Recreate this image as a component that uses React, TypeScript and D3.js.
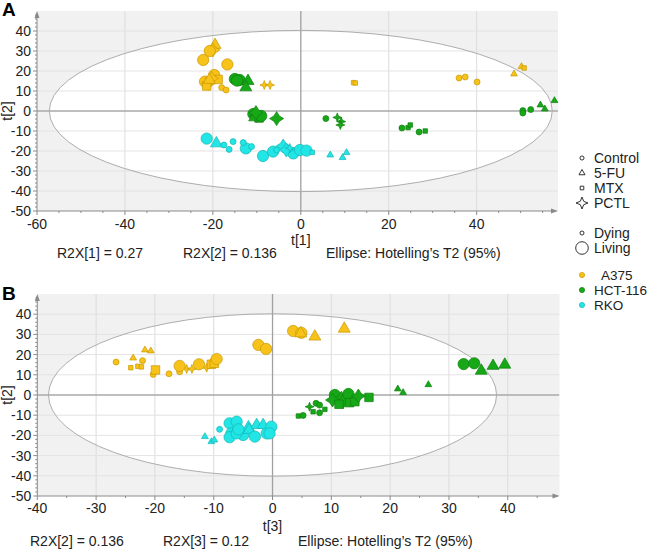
import React from "react";
import * as d3 from "d3";

// ---------- data: [x, y, treatment, state] ----------
type Pt = [number, number, string, string];

const lines = ["A375", "HCT-116", "RKO"];
const treatments = ["Control", "5-FU", "MTX", "PCTL"];
const states = ["Dying", "Living"];

// Panel A: t[1] vs t[2]
const a375A: Pt[] = [
  [-19.5, 33, "5-FU", "Living"], [-20, 30.5, "PCTL", "Living"], [-20.7, 30, "Control", "Living"],
  [-22.2, 25.5, "Control", "Living"], [-16.7, 23.3, "Control", "Living"], [-19.7, 18, "Control", "Living"],
  [-21.8, 14.7, "Control", "Living"], [-21, 13.8, "PCTL", "Living"], [-18.8, 15.8, "MTX", "Living"],
  [-21.4, 12.5, "MTX", "Living"], [-20.3, 16.3, "PCTL", "Living"], [-20.8, 15.5, "5-FU", "Living"],
  [-18, 11.7, "Control", "Dying"], [-17, 10.5, "Control", "Dying"], [-8.3, 13, "PCTL", "Dying"],
  [-7, 13, "PCTL", "Dying"], [12, 14.2, "MTX", "Dying"], [12.4, 14, "MTX", "Dying"],
  [36, 16.5, "Control", "Dying"], [37.4, 17, "Control", "Dying"], [40.1, 14.5, "Control", "Dying"],
  [50.2, 22.2, "5-FU", "Dying"], [50.8, 21.5, "MTX", "Dying"], [48.5, 18.5, "5-FU", "Dying"],
];
const hctA: Pt[] = [
  [-15, 16, "Control", "Living"], [-13.9, 15.5, "Control", "Living"], [-14.5, 15.2, "Control", "Living"],
  [-12, 15, "5-FU", "Living"], [-12.5, 11.8, "5-FU", "Living"],
  [-10.8, -1.5, "Control", "Living"], [-10, -2.2, "PCTL", "Living"], [-9.5, -3.5, "MTX", "Living"],
  [-10.5, -3.2, "5-FU", "Living"], [-9, -2.5, "Control", "Living"], [-10.2, -0.8, "PCTL", "Living"],
  [-5.5, -3.8, "PCTL", "Living"],
  [5.7, -3.8, "Control", "Dying"], [8.3, -3.2, "PCTL", "Dying"], [9.2, -5.3, "PCTL", "Dying"], [9, -7, "PCTL", "Dying"],
  [23, -8.5, "Control", "Dying"], [24.4, -8.3, "MTX", "Dying"], [24.9, -7, "MTX", "Dying"],
  [26.9, -10.5, "Control", "Dying"], [28.3, -10, "MTX", "Dying"],
  [50.5, 0.2, "Control", "Dying"], [50.5, -1, "Control", "Dying"], [52.3, 0.7, "Control", "Dying"],
  [54.5, 3, "5-FU", "Dying"], [55.5, 1, "5-FU", "Dying"], [57.7, 5.2, "5-FU", "Dying"],
];
const rkoA: Pt[] = [
  [-21.4, -13.8, "Control", "Living"], [-19.2, -16.2, "5-FU", "Living"], [-12.5, -18.7, "Control", "Living"],
  [-8.6, -22.5, "Control", "Living"], [-6.3, -20.3, "Control", "Living"], [-4, -17.5, "PCTL", "Living"],
  [-1.7, -21.2, "Control", "Living"], [-0.2, -19.5, "Control", "Living"], [1.3, -19.8, "Control", "Living"],
  [-3.3, -19.5, "PCTL", "Living"],
  [-17.5, -17, "Control", "Dying"], [-16.3, -19.2, "Control", "Dying"], [-15.4, -15.3, "Control", "Dying"],
  [-13.1, -15.8, "Control", "Dying"], [-11.2, -17.8, "Control", "Dying"], [2.6, -20.7, "MTX", "Dying"],
  [-2.5, -18.5, "PCTL", "Dying"], [-5.5, -19.5, "Control", "Dying"],
  [6.7, -22, "5-FU", "Dying"], [9.5, -23.3, "5-FU", "Dying"], [10.4, -20.8, "5-FU", "Dying"],
];

// Panel B: t[3] vs t[2]
const a375B: Pt[] = [
  [-26.6, 16.3, "Control", "Dying"], [-23.7, 18.3, "5-FU", "Dying"], [-21.7, 22.3, "5-FU", "Dying"],
  [-20.7, 21.8, "5-FU", "Dying"], [-22.1, 17, "Control", "Dying"], [-24.1, 13.5, "MTX", "Dying"],
  [-22.9, 14.2, "MTX", "Dying"], [-22.3, 13.9, "MTX", "Dying"], [-20.3, 10.2, "Control", "Dying"],
  [-17.6, 10.5, "Control", "Dying"], [-15.8, 11.5, "Control", "Dying"], [-14.6, 12.9, "PCTL", "Dying"],
  [-13.7, 12.9, "PCTL", "Dying"], [-11.2, 13.5, "PCTL", "Dying"],
  [-19.9, 12.4, "MTX", "Living"], [-15.8, 14.4, "Control", "Living"], [-12.5, 15.2, "Control", "Living"],
  [-10.4, 15.2, "MTX", "Living"], [-9.9, 15.7, "MTX", "Living"], [-9.5, 17.8, "Control", "Living"],
  [-2.4, 24.8, "Control", "Living"], [-1.1, 22.8, "Control", "Living"], [3.5, 31.7, "Control", "Living"],
  [4.9, 30.8, "Control", "Living"], [4.8, 30.5, "5-FU", "Living"], [7.2, 28.9, "5-FU", "Living"],
  [12.2, 32.8, "5-FU", "Living"],
];
const hctB: Pt[] = [
  [4.4, -10.4, "MTX", "Dying"], [5.2, -10.1, "Control", "Dying"], [6.3, -5.8, "PCTL", "Dying"],
  [7.4, -4.1, "Control", "Dying"], [8, -5, "Control", "Dying"], [6.9, -8.3, "MTX", "Dying"],
  [8, -8.8, "Control", "Dying"], [8.9, -7.1, "MTX", "Dying"],
  [21.3, 3, "5-FU", "Dying"], [22.2, 1.2, "5-FU", "Dying"], [26.5, 5.1, "5-FU", "Dying"],
  [10.6, 0, "Control", "Living"], [11.7, -1.6, "PCTL", "Living"], [12, -3.3, "PCTL", "Living"],
  [12.9, 0.5, "Control", "Living"], [13.1, -3.8, "MTX", "Living"], [14, -3.3, "MTX", "Living"],
  [14.6, -0.5, "PCTL", "Living"], [16.4, -1.2, "MTX", "Living"], [10.2, -2.5, "PCTL", "Living"],
  [11.3, -4.6, "MTX", "Living"],
  [32.5, 15.3, "Control", "Living"], [34.3, 15.7, "Control", "Living"], [35.5, 12, "5-FU", "Living"],
  [37.5, 14.4, "5-FU", "Living"], [39.5, 15, "5-FU", "Living"],
];
const rkoB: Pt[] = [
  [-11.5, -20.6, "5-FU", "Dying"], [-10.4, -23.1, "5-FU", "Dying"], [-9.9, -22.3, "5-FU", "Dying"],
  [-9, -17, "Control", "Dying"],
  [-7.3, -14, "Control", "Living"], [-6.1, -13.2, "Control", "Living"], [-7, -19, "Control", "Living"],
  [-7.3, -20.9, "Control", "Living"], [-5, -19.8, "Control", "Living"], [-4.1, -16, "5-FU", "Living"],
  [-2.7, -14.9, "5-FU", "Living"], [-1.6, -14.9, "5-FU", "Living"], [-4, -17.3, "5-FU", "Living"],
  [-3, -20.6, "Control", "Living"], [-1, -19, "Control", "Living"], [-0.2, -15.7, "Control", "Living"],
  [-0.5, -19, "Control", "Living"], [-6.1, -19, "Control", "Living"], [-5.8, -17, "Control", "Living"],
];

const yTickValues = [-50, -40, -30, -20, -10, 0, 10, 20, 30, 40];
const xTicksA = [-60, -40, -20, 0, 20, 40];
const xTicksB = [-40, -30, -20, -10, 0, 10, 20, 30, 40];
const r2xA = ["R2X[1] = 0.27", "R2X[2] = 0.136", "Ellipse: Hotelling\u2019s T2 (95%)"];
const r2xB = ["R2X[2] = 0.136", "R2X[3] = 0.12", "Ellipse: Hotelling\u2019s T2 (95%)"];

// ---------- styling ----------
const FONT = "'Liberation Sans', Arial, Helvetica, sans-serif";
const fillColor = d3.scaleOrdinal<string, string>().domain(lines).range(["#F7C21A", "#17A817", "#22E6E6"]);
const strokeColor = d3.scaleOrdinal<string, string>().domain(lines).range(["#C99A00", "#0E7F0E", "#12B5B5"]);

function star4(R: number, k = 0.45) {
  const r = R * k;
  const pts: [number, number][] = [];
  for (let i = 0; i < 8; i++) {
    const a = (Math.PI / 4) * i - Math.PI / 2;
    const rr = i % 2 === 0 ? R : r;
    pts.push([rr * Math.cos(a), rr * Math.sin(a)]);
  }
  return "M" + pts.map((p) => p.join(",")).join("L") + "Z";
}

function symbolPath(treat: string, state: string) {
  const big = state === "Living";
  if (treat === "PCTL") return big ? star4(7, 0.55) : star4(4.5, 0.4);
  const type =
    treat === "5-FU" ? d3.symbolTriangle : treat === "MTX" ? d3.symbolSquare : d3.symbolCircle;
  const size =
    treat === "5-FU" ? (big ? 62 : 20) : treat === "MTX" ? (big ? 72 : 20) : big ? 100 : 28;
  return d3.symbol().type(type).size(size)()!;
}

interface PanelCfg {
  label: string;
  xDomain: [number, number];
  xRange: [number, number];
  yRange: [number, number];
  ell: [number, number];
  xTicks: number[];
  xMinorStep: number;
  xLabel: string;
  yLabel: string;
  xTickBase: number;
  xLabelBase: number;
  r2Base: number;
  r2X: number[];
  r2Texts: string[];
  labelY: number;
  series: [string, Pt[]][];
}

const Panel: React.FC<{ cfg: PanelCfg }> = ({ cfg }) => {
  const x = d3.scaleLinear().domain(cfg.xDomain).range(cfg.xRange);
  const y = d3.scaleLinear().domain([-50, 50]).range(cfg.yRange);
  const [x0, x1] = cfg.xRange;
  const [yb, yt] = cfg.yRange;
  const cx = x(0), cy = y(0);
  const rx = x(cfg.ell[0]) - x(0);
  const ry = y(0) - y(cfg.ell[1]);
  const gridX = cfg.xTicks.filter((t) => t !== 0 && t !== cfg.xDomain[0]);
  const gridY = yTickValues.filter((t) => t !== 0 && t !== -50);
  const minorX = d3.range(Math.ceil(cfg.xDomain[0] / cfg.xMinorStep) * cfg.xMinorStep, cfg.xDomain[1], cfg.xMinorStep);
  const minorY = d3.range(-50, 50, 2);
  const clipId = "clip" + cfg.label;
  const axisCol = "#8a8a8a";
  return (
    <g>
      <defs>
        <clipPath id={clipId}>
          <rect x={x0} y={yt} width={x1 - x0} height={yb - yt} />
        </clipPath>
      </defs>
      <rect x={x0} y={yt} width={x1 - x0} height={yb - yt} fill="#f1f1f1" />
      <g clipPath={`url(#${clipId})`}>
        <ellipse cx={cx} cy={cy} rx={rx} ry={ry} fill="#ffffff" />
        {gridX.map((t) => (
          <line key={"gx" + t} x1={x(t)} x2={x(t)} y1={yt} y2={yb} stroke="#dcdcdc" strokeWidth={1} />
        ))}
        {gridY.map((t) => (
          <line key={"gy" + t} x1={x0} x2={x1} y1={y(t)} y2={y(t)} stroke="#e3e3e3" strokeWidth={1} />
        ))}
        <line x1={x0} x2={x1} y1={cy} y2={cy} stroke="#a8a8a8" strokeWidth={1.5} />
        <line x1={cx} x2={cx} y1={yt} y2={yb} stroke="#a0a0a0" strokeWidth={1.3} />
        <ellipse cx={cx} cy={cy} rx={rx} ry={ry} fill="none" stroke="#adadad" strokeWidth={1} />
      </g>
      {cfg.series.map(([line, pts]) =>
        pts.map((p, i) => (
          <path
            key={line + i}
            d={symbolPath(p[2], p[3])}
            transform={`translate(${x(p[0])},${y(p[1])})`}
            fill={fillColor(line)}
            stroke={strokeColor(line)}
            strokeWidth={0.7}
          />
        ))
      )}
      {/* axes */}
      <line x1={x0} x2={x0} y1={yb} y2={yt + 2} stroke={axisCol} strokeWidth={1} />
      <path d={`M${x0 - 2.5},${yt + 7}L${x0},${yt}L${x0 + 2.5},${yt + 7}Z`} fill={axisCol} />
      <line x1={x0} x2={x1 - 2} y1={yb} y2={yb} stroke={axisCol} strokeWidth={1} />
      <path d={`M${x1 - 7},${yb - 2.5}L${x1},${yb}L${x1 - 7},${yb + 2.5}Z`} fill={axisCol} />
      {minorY.map((t) => (
        <line key={"my" + t} x1={x0 - (t % 10 === 0 ? 4 : 2)} x2={x0} y1={y(t)} y2={y(t)} stroke={axisCol} strokeWidth={1} />
      ))}
      {minorX.map((t) => (
        <line key={"mx" + t} x1={x(t)} x2={x(t)} y1={yb} y2={yb + (cfg.xTicks.includes(t) ? 4 : 2)} stroke={axisCol} strokeWidth={1} />
      ))}
      {yTickValues.map((t) => (
        <text key={"yt" + t} x={x0 - 6} y={y(t) + 5} textAnchor="end" fontSize={14} fontFamily={FONT} fill="#222">
          {t}
        </text>
      ))}
      {cfg.xTicks.map((t) => (
        <text key={"xt" + t} x={x(t)} y={cfg.xTickBase} textAnchor="middle" fontSize={14} fontFamily={FONT} fill="#222">
          {t}
        </text>
      ))}
      <text x={cx} y={cfg.xLabelBase} textAnchor="middle" fontSize={14} fontFamily={FONT} fill="#222">
        {cfg.xLabel}
      </text>
      <text
        transform={`translate(12,${cy}) rotate(-90)`}
        textAnchor="middle"
        fontSize={14}
        fontFamily={FONT}
        fill="#222"
      >
        {cfg.yLabel}
      </text>
      {cfg.r2Texts.map((s, i) => (
        <text key={"r2" + i} x={cfg.r2X[i]} y={cfg.r2Base} fontSize={14} fontFamily={FONT} fill="#222">
          {s}
        </text>
      ))}
      <text x={2} y={cfg.labelY} fontSize={19} fontWeight="bold" fontFamily={FONT} fill="#000">
        {cfg.label}
      </text>
    </g>
  );
};

const panelA: PanelCfg = {
  label: "A",
  xDomain: [-60, 58.5],
  xRange: [37, 558],
  yRange: [211, 11],
  ell: [57.2, 40.3],
  xTicks: xTicksA,
  xMinorStep: 5,
  xLabel: "t[1]",
  yLabel: "t[2]",
  xTickBase: 229,
  xLabelBase: 245,
  r2Base: 258,
  r2X: [57, 183, 326],
  r2Texts: r2xA,
  labelY: 16,
  series: [["A375", a375A], ["HCT-116", hctA], ["RKO", rkoA]],
};

const panelB: PanelCfg = {
  label: "B",
  xDomain: [-40, 48.8],
  xRange: [37.3, 559.5],
  yRange: [496, 294],
  ell: [38.1, 40.2],
  xTicks: xTicksB,
  xMinorStep: 5,
  xLabel: "t[3]",
  yLabel: "t[2]",
  xTickBase: 513,
  xLabelBase: 531,
  r2Base: 546,
  r2X: [30, 163, 298],
  r2Texts: r2xB,
  labelY: 300,
  series: [["A375", a375B], ["HCT-116", hctB], ["RKO", rkoB]],
};

const Legend: React.FC = () => {
  const tx = 594;
  const sx = 582;
  const treatY = [158, 173, 188, 203];
  const stateY = [233, 248];
  const lineY = [275, 290, 305];
  const lineX = [601, 594, 594];
  const t = (s: string, xx: number, yy: number, fs = 14) => (
    <text x={xx} y={yy + 5} fontSize={fs} fontFamily={FONT} fill="#222">
      {s}
    </text>
  );
  return (
    <g>
      {treatments.map((tr, i) => (
        <g key={tr}>
          <path
            d={tr === "PCTL" ? star4(6, 0.4) : d3.symbol().type(tr === "5-FU" ? d3.symbolTriangle : tr === "MTX" ? d3.symbolSquare : d3.symbolCircle).size(tr === "5-FU" ? 16 : 13)()!}
            transform={`translate(${sx},${treatY[i]})`}
            fill="none"
            stroke="#333"
            strokeWidth={1}
          />
          {t(tr, tx, treatY[i])}
        </g>
      ))}
      {states.map((s, i) => (
        <g key={s}>
          <circle cx={sx} cy={stateY[i]} r={i === 0 ? 2 : 6.3} fill="none" stroke="#333" strokeWidth={1} />
          {t(s, tx, stateY[i])}
        </g>
      ))}
      {lines.map((l, i) => (
        <g key={l}>
          <circle cx={sx} cy={lineY[i]} r={2.6} fill={fillColor(l)} stroke={strokeColor(l)} strokeWidth={0.7} />
          {t(l, lineX[i], lineY[i], 13.5)}
        </g>
      ))}
    </g>
  );
};

export default function App() {
  return (
    <svg
      width={650}
      height={552}
      style={{ position: "absolute", left: 0, top: 0, background: "#fff" }}
    >
      <rect width={650} height={552} fill="#fff" />
      <Panel cfg={panelA} />
      <Panel cfg={panelB} />
      <Legend />
    </svg>
  );
}
